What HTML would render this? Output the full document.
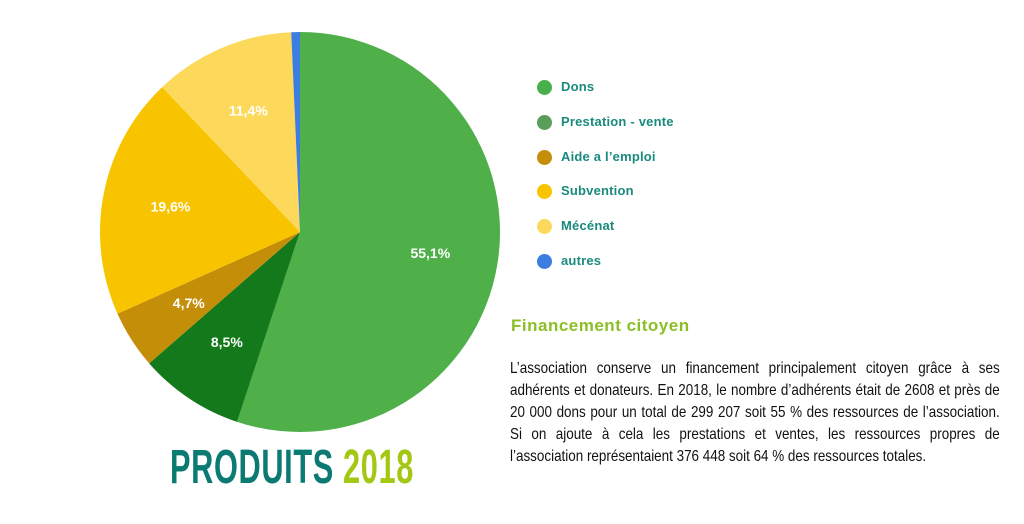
<!DOCTYPE html>
<html><head><meta charset="utf-8"><style>
body{margin:0;width:1024px;height:524px;background:#fff;position:relative;overflow:hidden;font-family:"Liberation Sans",sans-serif}
.leg{position:absolute;left:537px;color:#1a8a7e;font-size:13px;font-weight:bold;letter-spacing:0.2px}
.leg span{position:absolute;left:0;top:1px;width:15px;height:15px;border-radius:50%}
.leg b{margin-left:24px;font-weight:bold}
#body{position:absolute;left:510px;top:358px;font-size:16px;line-height:22px;text-align:justify;color:#111;transform:scaleX(0.84);transform-origin:0 0;width:583px}
</style></head><body>
<svg id="pie" width="1024" height="524" style="position:absolute;left:0;top:0"></svg>
<div style="position:absolute;left:170px;top:440px;font-size:48px;font-weight:bold;white-space:nowrap;transform:scaleX(0.64);transform-origin:0 0;letter-spacing:1px"><span style="color:#0b7a72">PRODUITS</span> <span style="color:#a3c814">2018</span></div>
<div id="legend"></div>
<div style="position:absolute;left:511px;top:316px;font-size:17px;font-weight:bold;color:#8cbf26;letter-spacing:0.5px">Financement citoyen</div>
<div id="body">L’association conserve un financement principalement citoyen grâce à ses adhérents et donateurs. En 2018, le nombre d’adhérents était de 2608 et près de 20 000 dons pour un total de 299 207 soit 55 % des ressources de l’association. Si on ajoute à cela les prestations et ventes, les ressources propres de l’association représentaient 376 448 soit 64 % des ressources totales.</div>
<script>
const categories=["Dons","Prestation - vente","Aide a l'emploi","Subvention","Mécénat","autres"];
const values=[55.1,8.5,4.7,19.6,11.4,0.7];
const labels=["55,1%","8,5%","4,7%","19,6%","11,4%",""];
const sliceColors=["#4fb04a","#13791a","#c58e08","#f8c400","#fcd95b","#3b7de0"];
const legendColors=["#47b04b","#5a9e5a","#c58e08","#f8c400","#fcd95b","#3b7de0"];
const NS="http://www.w3.org/2000/svg",svg=document.getElementById('pie');
const cx=300,cy=232,r=200;
const total=values.reduce((a,b)=>a+b,0);
let a0=0;
values.forEach((v,i)=>{
  const a1=a0+v/total*2*Math.PI;
  const p=a=>[cx+r*Math.sin(a),cy-r*Math.cos(a)];
  const [x0,y0]=p(a0),[x1,y1]=p(a1);
  const path=document.createElementNS(NS,'path');
  path.setAttribute('d',`M${cx},${cy}L${x0},${y0}A${r},${r} 0 ${a1-a0>Math.PI?1:0} 1 ${x1},${y1}Z`);
  path.setAttribute('fill',sliceColors[i]);
  
  
  svg.appendChild(path);
  if(labels[i]){
    const m=(a0+a1)/2,lr=r*0.66;
    const t=document.createElementNS(NS,'text');
    t.setAttribute('x',cx+lr*Math.sin(m));t.setAttribute('y',cy-lr*Math.cos(m)+5);
    t.setAttribute('text-anchor','middle');t.setAttribute('fill','#fff');
    t.setAttribute('font-size','14');t.setAttribute('font-weight','bold');
    t.setAttribute('font-family','Liberation Sans, sans-serif');
    t.textContent=labels[i];
    
    
    svg.appendChild(t);
  }
  a0=a1;
});
const lg=document.getElementById('legend');
categories.forEach((c,i)=>{
  const d=document.createElement('div');d.className='leg';d.style.top=(79+i*34.8)+'px';
  d.innerHTML=`<span style="background:${legendColors[i]}"></span><b>${c.replace("'","’")}</b>`;
  
  
  lg.appendChild(d);
});
</script>
</body></html>
